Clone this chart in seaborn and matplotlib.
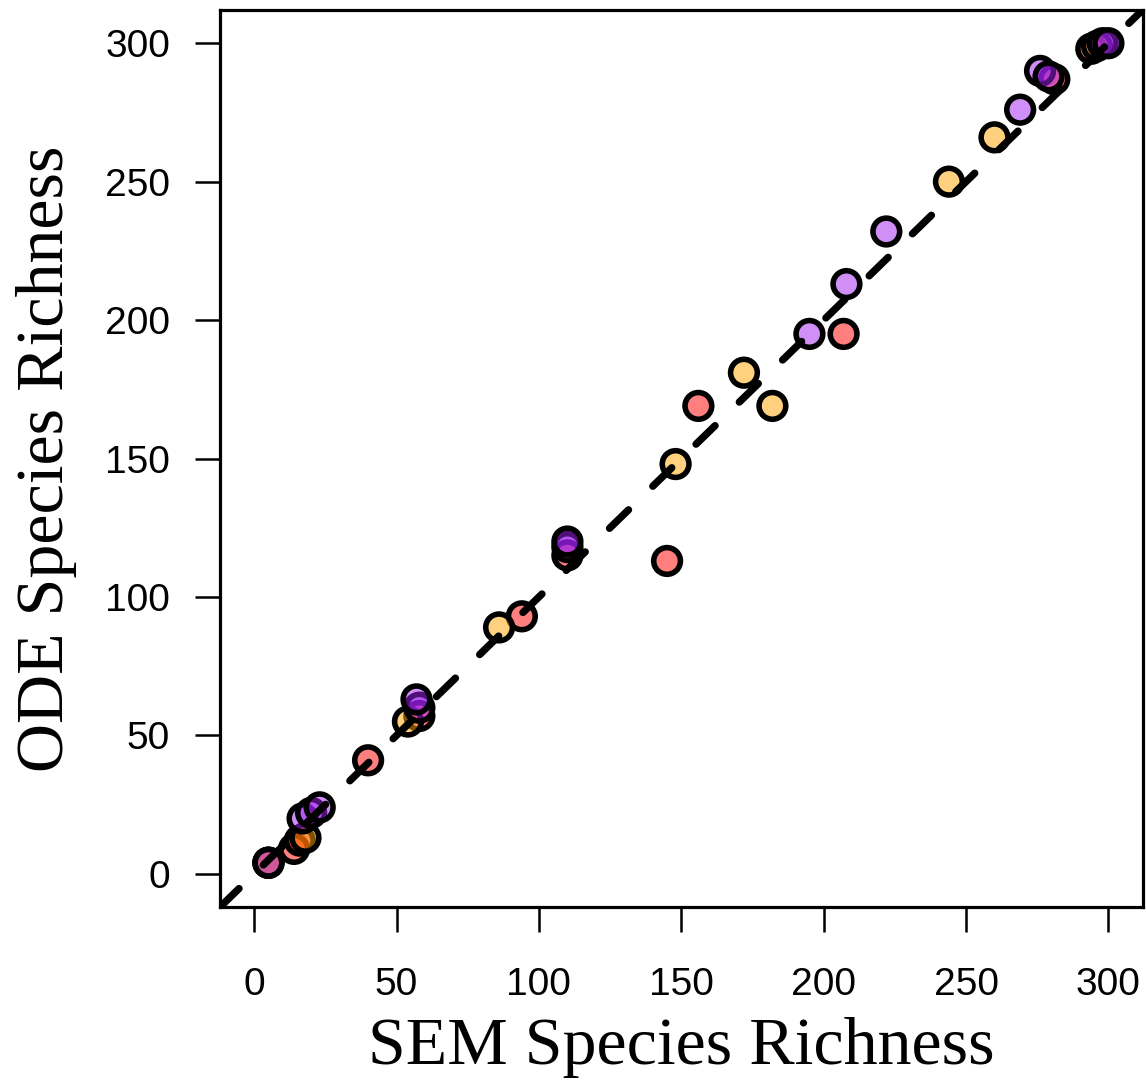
import numpy as np
import pandas as pd
import matplotlib
matplotlib.use("Agg")
import matplotlib.pyplot as plt
import seaborn as sns

# ---- data ----
red_x = [5, 14, 16, 40, 58, 94, 110, 145, 156, 207, 281, 294]
red_y = [4, 9, 12, 41, 57, 93, 115, 113, 169, 195, 287, 298]

orange_x = [5, 18, 54, 86, 148, 172, 182, 244, 260, 296]
orange_y = [4, 13, 55, 89, 148, 181, 169, 250, 266, 299]

purple_x = [5, 17, 20, 23, 58, 57, 110, 110, 195, 208, 222, 269, 276, 279, 298, 300]
purple_y = [4, 20, 22, 24, 60, 63, 118, 120, 195, 213, 232, 276, 290, 288, 300, 300]

x_ticks = [0, 50, 100, 150, 200, 250, 300]
y_ticks = [0, 50, 100, 150, 200, 250, 300]

df = pd.DataFrame({
    "SEM": red_x + orange_x + purple_x,
    "ODE": red_y + orange_y + purple_y,
    "group": ["red"] * len(red_x) + ["orange"] * len(orange_x) + ["purple"] * len(purple_x),
})

palette = {"red": "#FF0000", "orange": "#FFA500", "purple": "#A020F0"}

sns.set_style("white")
plt.rcParams["font.family"] = ["Liberation Sans", "DejaVu Sans"]
plt.rcParams["text.color"] = "black"
plt.rcParams["axes.labelcolor"] = "black"

fig = plt.figure(figsize=(11.46, 10.86), dpi=100)
ax = fig.add_axes([0.192, 0.1648, 0.805, 0.826])

sns.scatterplot(data=df, x="SEM", y="ODE", hue="group", palette=palette,
                s=370, edgecolor="black", linewidth=4.0, legend=False,
                ax=ax, zorder=2)
for coll in ax.collections:
    fc = coll.get_facecolors()
    fc[:, 3] = 0.5
    coll.set_facecolors(fc)
    coll.set_edgecolor("black")

ax.axline((0, 0), slope=1, color="black", lw=5.3, dashes=(3.6, 4.6),
          dash_capstyle="round", zorder=3)

ax.set_xlim(-12, 312)
ax.set_ylim(-12, 312)
ax.set_xticks(x_ticks)
ax.set_yticks(y_ticks)
ax.set_xticklabels([str(t) for t in x_ticks])
ax.set_yticklabels([str(t) for t in y_ticks])
ax.tick_params(axis="both", direction="out", length=18, width=1.8,
               labelsize=28, colors="black", bottom=True, left=True)
ax.tick_params(axis="x", pad=25)
ax.tick_params(axis="y", pad=18)

for sp in ax.spines.values():
    sp.set_linewidth(2.3)
    sp.set_color("black")
    sp.set_visible(True)

ax.set_xlabel("SEM Species Richness", family=["Liberation Serif", "DejaVu Serif"],
              fontsize=49, labelpad=10, color="black")
ax.set_ylabel("ODE Species Richness", family=["Liberation Serif", "DejaVu Serif"],
              fontsize=49, labelpad=20, color="black")

fig.savefig("out.png", dpi=100)
